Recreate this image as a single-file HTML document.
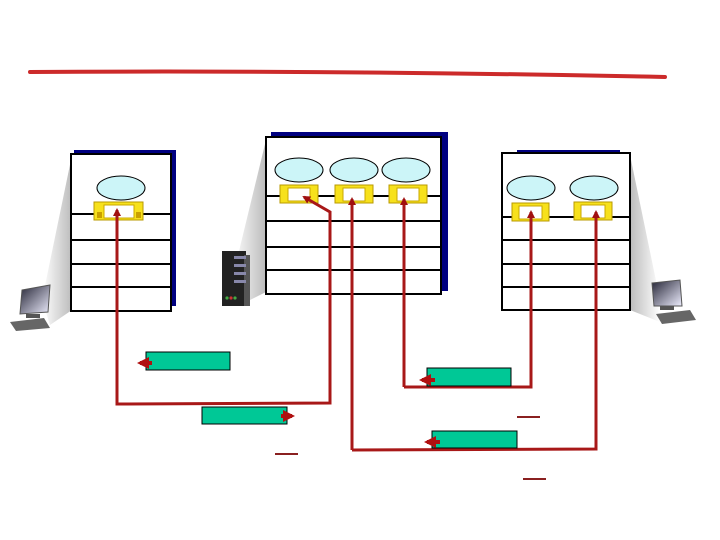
<!DOCTYPE html>
<html><head><meta charset="utf-8"><style>html,body{margin:0;padding:0;background:#fff}svg{display:block}</style></head>
<body>
<svg width="720" height="540" viewBox="0 0 720 540" xmlns="http://www.w3.org/2000/svg">
<defs>
<linearGradient id="wl" x1="0" x2="1"><stop offset="0" stop-color="#fff"/><stop offset="1" stop-color="#bbb"/></linearGradient>
<linearGradient id="wr" x1="1" x2="0"><stop offset="0" stop-color="#fff"/><stop offset="1" stop-color="#bbb"/></linearGradient>
<linearGradient id="scr" x1="0" y1="0" x2="1" y2="1"><stop offset="0" stop-color="#223"/><stop offset="1" stop-color="#eef"/></linearGradient>
<marker id="ah" markerWidth="8" markerHeight="8" refX="6" refY="4" orient="auto" markerUnits="userSpaceOnUse"><path d="M0,0 L8,4 L0,8 z" fill="#a01010"/></marker>
<marker id="ah2" markerWidth="12" markerHeight="12" refX="9" refY="6" orient="auto" markerUnits="userSpaceOnUse"><path d="M0,0 L12,6 L0,12 z" fill="#b01010"/></marker>
</defs>
<path d="M30,72 Q330,70 665,77" stroke="#cc2a2a" stroke-width="4" fill="none" stroke-linecap="round"/>

<!-- left wedge and laptop -->
<polygon points="72,155 72,310 50,325 42,300" fill="url(#wl)"/>
<polygon points="266,140 266,292 250,300 232,280" fill="url(#wl)"/>
<polygon points="630,155 630,310 660,322 660,300" fill="url(#wr)"/>
<g>
<polygon points="22,290 50,285 48,312 20,314" fill="url(#scr)" stroke="#555"/>
<rect x="26" y="314" width="14" height="4" fill="#555"/>
<polygon points="10,322 44,318 50,328 16,331" fill="#666"/>
</g>
<g>
<polygon points="652,283 680,280 682,306 654,306" fill="url(#scr)" stroke="#555"/>
<rect x="660" y="306" width="14" height="4" fill="#555"/>
<polygon points="656,314 690,310 696,320 662,324" fill="#666"/>
</g>
<!-- server -->
<rect x="222" y="251" width="24" height="55" fill="#222"/>
<rect x="244" y="255" width="6" height="51" fill="#555"/>
<rect x="234" y="256" width="12" height="3" fill="#88a"/>
<rect x="234" y="264" width="12" height="3" fill="#88a"/>
<rect x="234" y="272" width="12" height="3" fill="#88a"/>
<rect x="234" y="280" width="12" height="3" fill="#88a"/>
<circle cx="227" cy="298" r="1.6" fill="#4a4"/><circle cx="231" cy="298" r="1.6" fill="#c33"/><circle cx="235" cy="298" r="1.6" fill="#4a4"/>

<!-- left box -->
<rect x="74" y="150" width="102" height="156" fill="#000080"/>
<rect x="71" y="154" width="100" height="157" fill="#fff" stroke="#000" stroke-width="2"/>
<g stroke="#000" stroke-width="2"><line x1="71" y1="214" x2="171" y2="214"/><line x1="71" y1="240" x2="171" y2="240"/><line x1="71" y1="264" x2="171" y2="264"/><line x1="71" y1="287" x2="171" y2="287"/></g>
<ellipse cx="121" cy="188" rx="24" ry="12" fill="#ccf5f8" stroke="#000"/>
<rect x="94" y="202" width="49" height="18" fill="#f7e11c" stroke="#b99a00"/>
<rect x="104" y="205" width="30" height="13" fill="#fff" stroke="#c9a800"/>
<rect x="97" y="212" width="5" height="6" fill="#c9a000"/><rect x="136" y="212" width="5" height="6" fill="#c9a000"/>

<!-- middle box -->
<rect x="271" y="132" width="177" height="159" fill="#000080"/>
<rect x="266" y="137" width="175" height="157" fill="#fff" stroke="#000" stroke-width="2"/>
<g stroke="#000" stroke-width="2"><line x1="266" y1="196" x2="441" y2="196"/><line x1="266" y1="221" x2="441" y2="221"/><line x1="266" y1="247" x2="441" y2="247"/><line x1="266" y1="270" x2="441" y2="270"/></g>
<g fill="#ccf5f8" stroke="#000"><ellipse cx="299" cy="170" rx="24" ry="12"/><ellipse cx="354" cy="170" rx="24" ry="12"/><ellipse cx="406" cy="170" rx="24" ry="12"/></g>
<g>
<rect x="280" y="185" width="38" height="18" fill="#f7e11c" stroke="#b99a00"/><rect x="288" y="188" width="22" height="13" fill="#fff" stroke="#c9a800"/>
<rect x="335" y="185" width="38" height="18" fill="#f7e11c" stroke="#b99a00"/><rect x="343" y="188" width="22" height="13" fill="#fff" stroke="#c9a800"/>
<rect x="389" y="185" width="38" height="18" fill="#f7e11c" stroke="#b99a00"/><rect x="397" y="188" width="22" height="13" fill="#fff" stroke="#c9a800"/>
</g>

<!-- right box -->
<rect x="517" y="150" width="103" height="5" fill="#000080"/>
<rect x="502" y="153" width="128" height="157" fill="#fff" stroke="#000" stroke-width="2"/>
<g stroke="#000" stroke-width="2"><line x1="502" y1="217" x2="630" y2="217"/><line x1="502" y1="240" x2="630" y2="240"/><line x1="502" y1="264" x2="630" y2="264"/><line x1="502" y1="287" x2="630" y2="287"/></g>
<g fill="#ccf5f8" stroke="#000"><ellipse cx="531" cy="188" rx="24" ry="12"/><ellipse cx="594" cy="188" rx="24" ry="12"/></g>
<rect x="512" y="203" width="37" height="18" fill="#f7e11c" stroke="#b99a00"/><rect x="519" y="206" width="23" height="13" fill="#fff" stroke="#c9a800"/>
<rect x="574" y="202" width="38" height="18" fill="#f7e11c" stroke="#b99a00"/><rect x="581" y="205" width="24" height="13" fill="#fff" stroke="#c9a800"/>

<!-- red paths -->
<g stroke="#a81818" stroke-width="3" fill="none">
<polyline points="117,400 117,404 330,403 330,212 304,197" marker-end="url(#ah)"/>
<line x1="117" y1="404" x2="117" y2="210" marker-end="url(#ah)"/>
<polyline points="352,450 596,449 596,212" marker-end="url(#ah)"/>
<line x1="352" y1="450" x2="352" y2="199" marker-end="url(#ah)"/>
<polyline points="404,387 531,387 531,212" marker-end="url(#ah)"/>
<line x1="404" y1="387" x2="404" y2="199" marker-end="url(#ah)"/>
</g>

<!-- green boxes -->
<g fill="#00c896" stroke="#000" stroke-width="1">
<rect x="146" y="352" width="84" height="18"/>
<rect x="202" y="407" width="85" height="17"/>
<rect x="427" y="368" width="84" height="18"/>
<rect x="432" y="431" width="85" height="17"/>
</g>
<g stroke="#b01010" stroke-width="4" fill="none">
<line x1="152" y1="363" x2="140" y2="363" marker-end="url(#ah2)"/>
<line x1="281" y1="416" x2="292" y2="416" marker-end="url(#ah2)"/>
<line x1="435" y1="380" x2="422" y2="380" marker-end="url(#ah2)"/>
<line x1="440" y1="442" x2="427" y2="442" marker-end="url(#ah2)"/>
</g>
<g stroke="#8a2020" stroke-width="2">
<line x1="275" y1="454" x2="298" y2="454"/>
<line x1="517" y1="417" x2="540" y2="417"/>
<line x1="523" y1="479" x2="546" y2="479"/>
</g>
</svg>
</body></html>
